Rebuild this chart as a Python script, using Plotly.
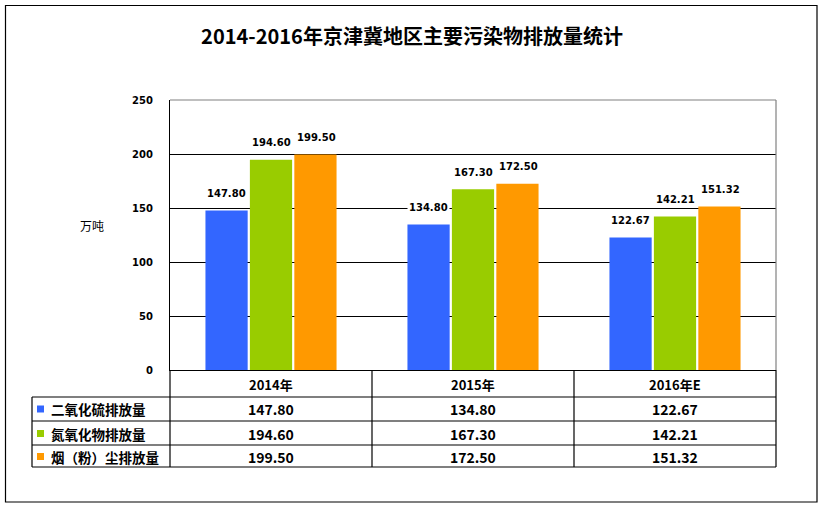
import plotly.graph_objects as go

categories = ["2014年", "2015年", "2016年E"]
series_names = ["二氧化硫排放量", "氮氧化物排放量", "烟（粉）尘排放量"]
so2 = [147.80, 134.80, 122.67]
nox = [194.60, 167.30, 142.21]
dust = [199.50, 172.50, 151.32]
colors = ["#3366FF", "#99CC00", "#FF9900"]
y_ticks = [0, 50, 100, 150, 200, 250]

W, H = 824, 509
L, R, T, B = 170, 776, 100, 370
FONT = "Noto Sans CJK SC"
NUMFONT = "DejaVu Sans"


def px(x):
    return (x - L) / (R - L)


def py(y):
    return (B - y) / (B - T)


series = [so2, nox, dust]
fig = go.Figure()
for name, vals, col in zip(series_names, series, colors):
    fig.add_trace(go.Bar(x=categories, y=vals, name=name, marker=dict(color=col, line=dict(width=0))))

annotations = []
offsets = [-45, 0, 45]
for vals, off in zip(series, offsets):
    for c, v in zip(categories, vals):
        annotations.append(dict(x=c, y=v, xref="x", yref="y", text=f"<b>{v:.2f}</b>",
                                showarrow=False, xshift=off, yshift=17, yanchor="middle",
                                bgcolor="white", borderpad=1,
                                font=dict(family=NUMFONT, size=10, color="black")))

# y-axis title
annotations.append(dict(x=px(92), y=py(225), xref="paper", yref="paper", text="万吨",
                        showarrow=False, xanchor="center", yanchor="middle",
                        font=dict(family=FONT, size=12, color="black")))

# data table text
row_centers = [409, 433.5, 456.5]
header_y = py(384)
for c in categories:
    annotations.append(dict(x=c, y=header_y, xref="x", yref="paper", text=f"<b>{c}</b>",
                            showarrow=False, xanchor="center", yanchor="middle",
                            font=dict(family=FONT, size=13, color="black")))
for r, (name, vals) in enumerate(zip(series_names, series)):
    annotations.append(dict(x=px(49), y=py(row_centers[r]), xref="paper", yref="paper",
                            text=f"<b>{name}</b>", xanchor="left", yanchor="middle", showarrow=False,
                            font=dict(family=FONT, size=13.5, color="black")))
    for c, v in zip(categories, vals):
        annotations.append(dict(x=c, y=py(row_centers[r]), xref="x", yref="paper",
                                text=f"<b>{v:.2f}</b>", showarrow=False,
                                xanchor="center", yanchor="middle",
                                font=dict(family=FONT, size=14, color="black")))

shapes = []
# legend keys
for r, col in enumerate(colors):
    yc = row_centers[r]
    shapes.append(dict(type="rect", xref="paper", yref="paper", x0=px(37), x1=px(44),
                       y0=py(yc + 3.5), y1=py(yc - 3.5), fillcolor=col, line=dict(width=0)))

line_k = dict(color="black", width=1.2)
# table horizontal lines
for yy in [397, 421, 445, 467]:
    shapes.append(dict(type="line", xref="paper", yref="paper", x0=px(32), x1=px(R),
                       y0=py(yy), y1=py(yy), line=line_k))
# table vertical lines
shapes.append(dict(type="line", xref="paper", yref="paper", x0=px(32), x1=px(32),
                   y0=py(397), y1=py(467), line=line_k))
for xx in [170, 372, 574, 776]:
    shapes.append(dict(type="line", xref="paper", yref="paper", x0=px(xx), x1=px(xx),
                       y0=py(370), y1=py(467), line=line_k))
# plot-area top and right border (grey)
shapes.append(dict(type="line", xref="paper", yref="paper", x0=0, x1=1, y0=1, y1=1,
                   line=dict(color="#808080", width=1.2), layer="above"))
shapes.append(dict(type="line", xref="paper", yref="paper", x0=1, x1=1, y0=0, y1=1,
                   line=dict(color="#808080", width=1.2), layer="above"))
# outer border
shapes.append(dict(type="rect", xref="paper", yref="paper", x0=px(5.5), x1=px(817),
                   y0=py(502), y1=py(5.5), line=dict(color="black", width=1.2)))

fig.update_layout(
    width=W, height=H,
    margin=dict(l=L, r=W - R, t=T, b=H - B),
    paper_bgcolor="white", plot_bgcolor="white",
    title=dict(text="<b>2014-2016年京津冀地区主要污染物排放量统计</b>", x=0.5, xanchor="center",
               y=1 - 37 / H, yanchor="middle", font=dict(family=FONT, size=20, color="black")),
    barmode="group", bargap=0.34, bargroupgap=0.05,
    showlegend=False,
    annotations=annotations,
    shapes=shapes,
    xaxis=dict(showticklabels=False, showgrid=False, showline=True, linecolor="black",
               linewidth=1.2, ticks="", fixedrange=True),
    yaxis=dict(range=[0, 250], tickvals=y_ticks, ticktext=[f"<b>{t}</b>" for t in y_ticks],
               showgrid=True, gridcolor="black", gridwidth=1.2, showline=True, linecolor="black",
               linewidth=1.2, zeroline=True, zerolinecolor="black", zerolinewidth=1.2,
               ticks="", ticklabelstandoff=14,
               tickfont=dict(family=NUMFONT, size=10, color="black")),
)

fig.write_html("out.html")
